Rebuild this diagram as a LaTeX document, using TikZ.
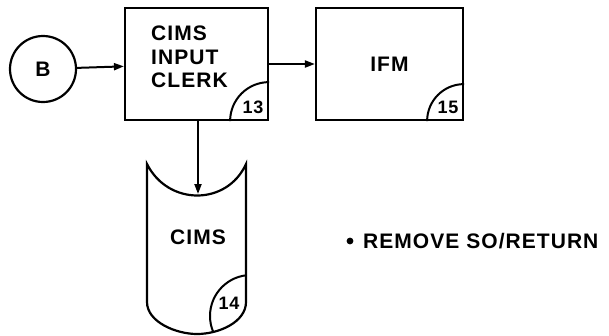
\documentclass[tikz,border=0pt]{standalone}
\usepackage{fontspec}
\setmainfont{Liberation Sans}[LetterSpace=5]
\usetikzlibrary{arrows.meta}

\begin{document}
\begin{tikzpicture}[
  x=1pt,
  y=1pt,
  every node/.style={font=\fontsize{21}{23.5}\selectfont\bfseries},
  procbox/.style={draw=black, line width=2.2pt, minimum height=112pt, inner sep=0pt},
  conn/.style={draw=black, line width=2.2pt},
  num/.style={inner sep=0pt, font=\fontsize{18}{20}\selectfont\bfseries},
  flow/.style={line width=2pt, -{Triangle[length=10pt, width=7pt]}}
]
\useasboundingbox (0,0) rectangle (609,-335);

\node[conn, circle, minimum size=66pt, inner sep=0pt] (b) at (43,-69) {B};

\node[procbox, minimum width=143pt] (clerk) at (196.5,-64) {};
\node[anchor=west, align=left, inner sep=0pt] (clerktxt) at (151,-57) {CIMS\\INPUT\\CLERK};
\node[procbox, minimum width=147pt] (ifm) at (389.5,-64) {IFM};

% corner numbers
\draw[line width=2pt] (clerk.south east) ++(-39,0) arc[start angle=180, end angle=90, radius=39];
\node[num] (n13) at (253,-107) {13};
\draw[line width=2pt] (ifm.south east) ++(-37,0) arc[start angle=180, end angle=90, radius=37];
\node[num] (n15) at (448,-107) {15};

% file symbol
\coordinate (cimstop) at (198,-194);
\draw[line width=2.2pt] (246,-164) .. controls (227,-206) and (168,-206) .. (147,-164)
  -- (147,-302) .. controls (147,-322) and (176,-334) .. (197,-334)
  .. controls (219,-334) and (246,-322) .. (246,-302) -- cycle;
\begin{scope}
\clip (246,-164) -- (147,-164) -- (147,-302) .. controls (147,-322) and (176,-334) .. (197,-334)
  .. controls (219,-334) and (246,-322) .. (246,-302) -- cycle;
\draw[line width=2pt] (251,-316) circle[radius=41];
\end{scope}
\node (cims) at (198,-237) {CIMS};
\node[num] (n14) at (229,-303) {14};

\draw[flow] (b) -- (clerk);
\draw[flow] (clerk) -- (ifm);
\draw[flow] (clerk.south -| cimstop) -- (cimstop);

\fill (350,-241) circle[radius=3.4];
\node[anchor=west, inner sep=0pt] (note) at (363,-241) {REMOVE SO/RETURN};
\end{tikzpicture}
\end{document}
